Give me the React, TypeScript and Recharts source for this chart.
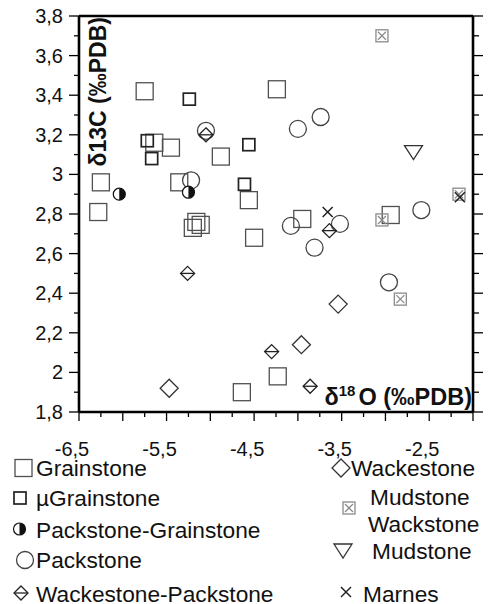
import { Scatter, ScatterChart, XAxis, YAxis } from "recharts";

const xTicks = [-6.5, -6.25, -6, -5.75, -5.5, -5.25, -5, -4.75, -4.5, -4.25, -4, -3.75, -3.5, -3.25, -3, -2.75, -2.5, -2.25, -2];
const xLabels = [-6.5, -5.5, -4.5, -3.5, -2.5];
const yTicks = [1.8, 1.9, 2, 2.1, 2.2, 2.3, 2.4, 2.5, 2.6, 2.7, 2.8, 2.9, 3, 3.1, 3.2, 3.3, 3.4, 3.5, 3.6, 3.7, 3.8];
const yLabels = [1.8, 2, 2.2, 2.4, 2.6, 2.8, 3, 3.2, 3.4, 3.6, 3.8];

// d18O (x) / d13C (y)
const grainstone = [
  { x: -5.75, y: 3.42 }, { x: -5.64, y: 3.16 }, { x: -5.45, y: 3.135 }, { x: -4.88, y: 3.09 },
  { x: -6.25, y: 2.96 }, { x: -5.355, y: 2.96 }, { x: -4.56, y: 2.87 }, { x: -6.28, y: 2.81 },
  { x: -5.2, y: 2.73 }, { x: -5.16, y: 2.76 }, { x: -5.11, y: 2.745 }, { x: -4.5, y: 2.68 },
  { x: -4.64, y: 1.9 }, { x: -4.24, y: 3.43 }, { x: -3.95, y: 2.775 }, { x: -2.94, y: 2.795 },
  { x: -4.23, y: 1.98 },
];
const microGrainstone = [
  { x: -5.24, y: 3.38 }, { x: -5.72, y: 3.17 }, { x: -5.67, y: 3.08 }, { x: -4.56, y: 3.15 }, { x: -4.61, y: 2.95 },
];
const packGrain = [{ x: -6.04, y: 2.9 }, { x: -5.25, y: 2.91 }];
const packstone = [
  { x: -5.05, y: 3.22 }, { x: -5.22, y: 2.97 }, { x: -4.0, y: 3.23 }, { x: -3.74, y: 3.29 },
  { x: -2.59, y: 2.82 }, { x: -4.08, y: 2.74 }, { x: -3.52, y: 2.75 }, { x: -3.81, y: 2.63 },
  { x: -2.96, y: 2.455 },
];
const wackPack = [
  { x: -5.05, y: 3.2 }, { x: -5.26, y: 2.5 }, { x: -3.64, y: 2.716 }, { x: -4.3, y: 2.105 }, { x: -3.86, y: 1.93 },
];
const wackestone = [{ x: -5.47, y: 1.92 }, { x: -3.54, y: 2.345 }, { x: -3.96, y: 2.14 }];
const mudWack = [{ x: -3.04, y: 3.7 }, { x: -2.16, y: 2.9 }, { x: -3.04, y: 2.77 }, { x: -2.83, y: 2.37 }];
const mudstone = [{ x: -2.68, y: 3.11 }];
const marnes = [{ x: -2.15, y: 2.885 }, { x: -3.66, y: 2.81 }];

const font = "'Liberation Sans', Arial, Helvetica, sans-serif";
const axisStyle = { stroke: "#000", strokeWidth: 2.6 };

const BigSquare = ({ cx, cy }: any) => (
  <rect x={cx - 8.5} y={cy - 8.5} width={17} height={17} fill="none" stroke="#505050" strokeWidth={1.3} />
);
const SmallSquare = ({ cx, cy }: any) => (
  <rect x={cx - 6} y={cy - 6} width={12} height={12} fill="none" stroke="#222" strokeWidth={1.7} />
);
const HalfCircle = ({ cx, cy }: any) => (
  <g>
    <circle cx={cx} cy={cy} r={6} fill="#fff" stroke="#111" strokeWidth={1.2} />
    <path d={`M${cx} ${cy - 6} A6 6 0 0 1 ${cx} ${cy + 6} Z`} fill="#111" />
  </g>
);
const OpenCircle = ({ cx, cy }: any) => (
  <circle cx={cx} cy={cy} r={8.5} fill="none" stroke="#444" strokeWidth={1.3} />
);
const LinedDiamond = ({ cx, cy }: any) => (
  <g fill="none" stroke="#222" strokeWidth={1.3}>
    <path d={`M${cx} ${cy - 7} L${cx + 7} ${cy} L${cx} ${cy + 7} L${cx - 7} ${cy} Z`} />
    <line x1={cx - 7} y1={cy} x2={cx + 7} y2={cy} />
  </g>
);
const Diamond = ({ cx, cy }: any) => (
  <path d={`M${cx} ${cy - 9} L${cx + 9} ${cy} L${cx} ${cy + 9} L${cx - 9} ${cy} Z`} fill="none" stroke="#333" strokeWidth={1.3} />
);
const CrossSquare = ({ cx, cy }: any) => (
  <g fill="none" stroke="#8a8a8a" strokeWidth={1.3}>
    <rect x={cx - 6} y={cy - 6} width={12} height={12} />
    <line x1={cx - 4} y1={cy - 4} x2={cx + 4} y2={cy + 4} />
    <line x1={cx + 4} y1={cy - 4} x2={cx - 4} y2={cy + 4} />
  </g>
);
const Triangle = ({ cx, cy }: any) => (
  <path d={`M${cx - 9} ${cy - 7} L${cx + 9} ${cy - 7} L${cx} ${cy + 7} Z`} fill="none" stroke="#333" strokeWidth={1.3} />
);
const Cross = ({ cx, cy }: any) => (
  <g stroke="#222" strokeWidth={1.5}>
    <line x1={cx - 5} y1={cy - 5} x2={cx + 5} y2={cy + 5} />
    <line x1={cx + 5} y1={cy - 5} x2={cx - 5} y2={cy + 5} />
  </g>
);

const isMajor = (v: number, step: number) => Math.abs(Math.round(v / step) * step - v) < 1e-6;
const fmt = (v: number) => String(v).replace(".", ",");

const BottomTick = ({ x, y, payload }: any) => {
  const v = payload.value;
  const len = isMajor(v, 0.5) ? 9 : 5;
  return (
    <g>
      <line x1={x} y1={y} x2={x} y2={y + len} stroke="#000" strokeWidth={1.3} />
      {xLabels.some((l) => Math.abs(l - v) < 1e-6) && (
        <text x={x - 7} y={y + 44} textAnchor="middle" fontSize={20} fontFamily={font} fill="#111">
          {fmt(v)}
        </text>
      )}
    </g>
  );
};
const TopTick = ({ x, y, payload }: any) => {
  const len = isMajor(payload.value, 0.5) ? 9 : 5;
  return <line x1={x} y1={y} x2={x} y2={y - len} stroke="#000" strokeWidth={1.3} />;
};
const LeftTick = ({ x, y, payload }: any) => {
  const v = payload.value;
  const major = yLabels.some((l) => Math.abs(l - v) < 1e-6);
  return (
    <g>
      <line x1={x} y1={y} x2={x - (major ? 10 : 5)} y2={y} stroke="#000" strokeWidth={1.3} />
      {major && (
        <text x={x - 16} y={y + 7} textAnchor="end" fontSize={20} fontFamily={font} fill="#111">
          {fmt(v)}
        </text>
      )}
    </g>
  );
};
const RightTick = ({ x, y, payload }: any) => {
  const major = yLabels.some((l) => Math.abs(l - payload.value) < 1e-6);
  return <line x1={x} y1={y} x2={x + (major ? 10 : 6)} y2={y} stroke="#000" strokeWidth={1.3} />;
};

const legendLeft = [
  { name: "Grainstone", Icon: BigSquare, ix: 23.5, iy: 468, tx: 36, ty: 476 },
  { name: "µGrainstone", Icon: SmallSquare, ix: 20, iy: 498, tx: 36, ty: 506 },
  { name: "Packstone-Grainstone", Icon: HalfCircle, ix: 19.5, iy: 529, tx: 36, ty: 538 },
  { name: "Packstone", Icon: OpenCircle, ix: 25, iy: 560, tx: 36, ty: 568 },
  { name: "Wackestone-Packstone", Icon: LinedDiamond, ix: 21, iy: 593, tx: 36, ty: 602 },
];

export default function App() {
  return (
    <div style={{ position: "absolute", left: 0, top: 0, width: 503, height: 604, background: "#fff", fontFamily: font }}>
      <ScatterChart width={503} height={470} margin={{ top: 6, right: 10, bottom: 28, left: 19 }}>
        <XAxis xAxisId="b" type="number" dataKey="x" domain={[-6.5, -2]} ticks={xTicks} interval={0}
          allowDataOverflow tickSize={0} tickMargin={0} tickLine={false} axisLine={axisStyle} tick={BottomTick} height={30} />
        <XAxis xAxisId="t" orientation="top" type="number" domain={[-6.5, -2]} ticks={xTicks} interval={0}
          allowDataOverflow tickSize={0} tickMargin={0} tickLine={false} axisLine={axisStyle} tick={TopTick} height={10} />
        <YAxis yAxisId="l" type="number" dataKey="y" domain={[1.8, 3.8]} ticks={yTicks} interval={0}
          allowDataOverflow tickSize={0} tickMargin={0} tickLine={false} axisLine={axisStyle} tick={LeftTick} width={60} />
        <YAxis yAxisId="r" orientation="right" type="number" domain={[1.8, 3.8]} ticks={yTicks} interval={0}
          allowDataOverflow tickSize={0} tickMargin={0} tickLine={false} axisLine={axisStyle} tick={RightTick} width={20} />
        <Scatter name="Grainstone" xAxisId="b" yAxisId="l" data={grainstone} shape={BigSquare} isAnimationActive={false} />
        <Scatter name="µGrainstone" xAxisId="b" yAxisId="l" data={microGrainstone} shape={SmallSquare} isAnimationActive={false} />
        <Scatter name="Packstone" xAxisId="b" yAxisId="l" data={packstone} shape={OpenCircle} isAnimationActive={false} />
        <Scatter name="Packstone-Grainstone" xAxisId="b" yAxisId="l" data={packGrain} shape={HalfCircle} isAnimationActive={false} />
        <Scatter name="Wackestone-Packstone" xAxisId="b" yAxisId="l" data={wackPack} shape={LinedDiamond} isAnimationActive={false} />
        <Scatter name="Wackestone" xAxisId="b" yAxisId="l" data={wackestone} shape={Diamond} isAnimationActive={false} />
        <Scatter name="Mudstone Wackstone" xAxisId="b" yAxisId="l" data={mudWack} shape={CrossSquare} isAnimationActive={false} />
        <Scatter name="Mudstone" xAxisId="b" yAxisId="l" data={mudstone} shape={Triangle} isAnimationActive={false} />
        <Scatter name="Marnes" xAxisId="b" yAxisId="l" data={marnes} shape={Cross} isAnimationActive={false} />
      </ScatterChart>
      <svg width={503} height={604} style={{ position: "absolute", left: 0, top: 0, pointerEvents: "none" }}>
        <text x={106} y={17} transform="rotate(-90 106 17)" textAnchor="end" fontWeight="bold" fontSize={23} fontFamily={font} fill="#111">
          δ13C (‰PDB)
        </text>
        <text x={472} y={405} textAnchor="end" fontWeight="bold" fontSize={23.5} fontFamily={font} fill="#111">
          δ<tspan fontSize={15} dy={-9}>18</tspan>
          <tspan dy={9} dx={3}>O (‰PDB)</tspan>
        </text>
        <g fontSize={22.7} fontFamily={font} fill="#111">
          {legendLeft.map(({ name, Icon, ix, iy, tx, ty }) => (
            <g key={name}>
              <Icon cx={ix} cy={iy} />
              <text x={tx} y={ty}>{name}</text>
            </g>
          ))}
          <Diamond cx={341} cy={468} />
          <text x={351} y={476}>Wackestone</text>
          <CrossSquare cx={349} cy={508} />
          <text x={370} y={505}>Mudstone</text>
          <text x={368} y={532}>Wackstone</text>
          <Triangle cx={343} cy={551} />
          <text x={372} y={559}>Mudstone</text>
          <Cross cx={346} cy={592} />
          <text x={363} y={602}>Marnes</text>
        </g>
      </svg>
    </div>
  );
}
